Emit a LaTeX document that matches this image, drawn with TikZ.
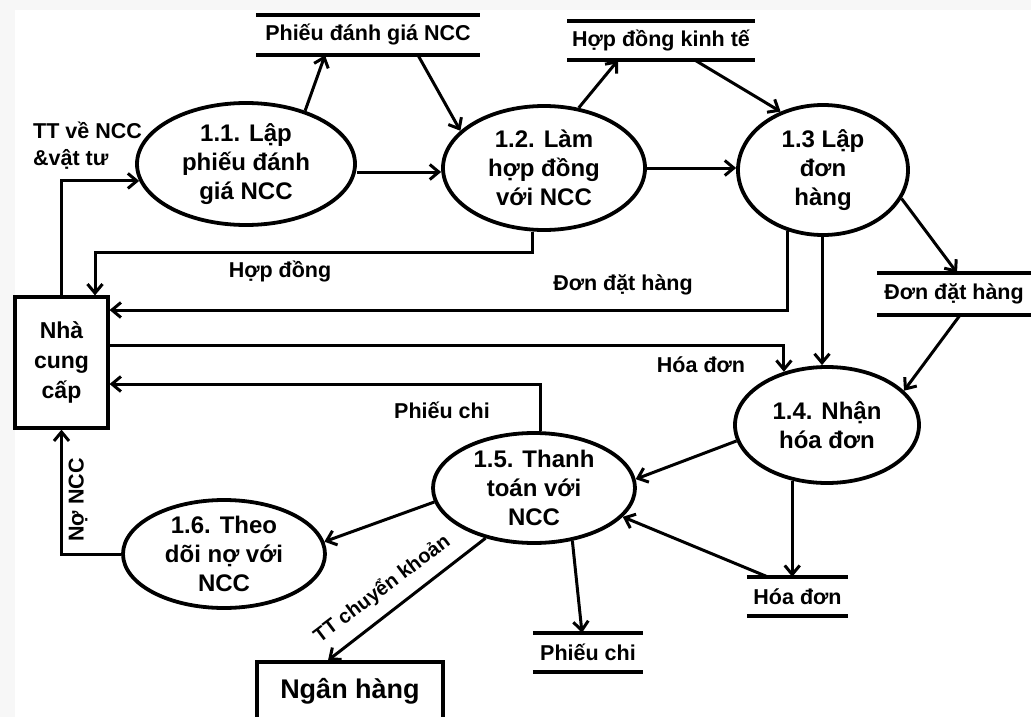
\documentclass[tikz,border=0pt]{standalone}
\usepackage{fontspec}
\setmainfont{Liberation Sans}
\usetikzlibrary{shapes.geometric,arrows.meta}
\begin{document}
\begin{tikzpicture}[x=1pt,y=-1pt,
  proc/.style={ellipse, draw, line width=3.8pt, inner sep=0pt, align=center,
    font=\fontsize{24}{29}\selectfont\bfseries},
  ent/.style={rectangle, draw, line width=3.2pt, inner sep=0pt, align=center},
  store/.style={inner sep=0pt, font=\fontsize{21.5}{24}\selectfont\bfseries},
  storeline/.style={line width=3.8pt},
  flow/.style={line width=3pt, -{Straight Barb[length=9pt,width=15pt]}},
  lbl/.style={font=\fontsize{21.5}{27}\selectfont\bfseries, inner sep=0pt}]
\useasboundingbox (0,0) rectangle (1031,717);
\fill[gray!6] (0,0) rectangle (1031,10);
\fill[gray!6] (0,0) rectangle (15,717);

% processes
\node[proc, minimum width=218pt, minimum height=122pt] (p11) at (246,164) {1.1. Lập\\phiếu đánh\\giá NCC};
\node[proc, minimum width=202pt, minimum height=124pt] (p12) at (544,168) {1.2. Làm\\hợp đồng\\với NCC};
\node[proc, minimum width=170pt, minimum height=130pt] (p13) at (823,170) {1.3 Lập\\đơn\\hàng};
\node[proc, minimum width=184pt, minimum height=116pt] (p14) at (827,425) {1.4. Nhận\\hóa đơn};
\node[proc, minimum width=202pt, minimum height=110pt, inner ysep=-3pt] (p15) at (534,488) {1.5. Thanh\\toán với\\NCC};
\node[proc, minimum width=202pt, minimum height=108pt, inner ysep=-3pt] (p16) at (224,554) {1.6. Theo\\dõi nợ với\\NCC};

% external entities
\node[ent, minimum width=93pt, minimum height=131pt, font=\fontsize{23}{30}\selectfont\bfseries] (ncc) at (61.5,362.5) {Nhà\\cung\\cấp};
\node[ent, minimum width=186pt, minimum height=58pt, font=\fontsize{27}{30}\selectfont\bfseries] (bank) at (350,691) {Ngân hàng};

% data stores
\node[store, minimum width=224pt, minimum height=40pt] (s1) at (368,35) {Phiếu đánh giá NCC};
\node[store, minimum width=187pt, minimum height=39pt] (s2) at (661,40.5) {Hợp đồng kinh tế};
\node[store, minimum width=154pt, minimum height=42pt] (s3) at (954,294) {Đơn đặt hàng};
\node[store, minimum width=101pt, minimum height=39pt] (s4) at (797.5,596.5) {Hóa đơn};
\node[store, minimum width=110pt, minimum height=39pt] (s5) at (588,652.5) {Phiếu chi};
\foreach \s in {s1,s2,s3,s4,s5} {
  \draw[storeline] (\s.north west) -- (\s.north east) (\s.south west) -- (\s.south east);
}

% flows
\draw[flow] (ncc.north) |- (p11.189.8);
\draw[flow] (p11.42.5) -- ([xshift=-43pt]s1.south);
\draw[flow] ([xshift=50pt]s1.south) -- (p12.156.4);
\draw[flow] (p11.east |- 0,172) -- (p12.west |- 0,172);
\draw[flow] (p12.60.9) -- ([xshift=-43pt]s2.south);
\draw[flow] ([xshift=34pt]s2.south) -- (p13.126.9);
\draw[flow] (p12.east) -- (p12.east -| p13.west);
\draw[flow] (p12.south -| 532,0) |- (95,252) -- (ncc.north -| 95,0);
\draw[flow] (p13.-120.7) |- (ncc.east |- 0,310);
\draw[flow] (p13.south -| 822,0) -- (p14.north -| 822,0);
\draw[flow] (p13.-20) -- ([xshift=3pt]s3.north);
\draw[flow] ([xshift=6pt]s3.south) -- (p14.24.3);
\draw[flow] (ncc.east |- 0,345) -| (p14.129.1);
\draw[flow] (p15.north -| 540,0) |- (ncc.east |- 0,384);
\draw[flow] (p14.190.7) -- (p15.5.8);
\draw[flow] (p14.-122.2) -- (p14.-122.2 |- s4.north);
\draw[flow] ([xshift=-30pt]s4.north) -- (p15.-18.6);
\draw[flow] (p15.-54.8) -- ([xshift=-6pt]s5.north);
\draw[flow] (p15.188) -- (p16.7);
\draw[flow] (p16.west) -| (ncc.south);
\draw[flow] (p15.226.8) -- ([xshift=-22pt]bank.north);

% flow labels
\node[lbl, anchor=west, align=left] (l1) at (33,146) {TT về NCC\\\&vật tư};
\node[lbl] (l2) at (280,272) {Hợp đồng};
\node[lbl] (l3) at (623,285) {Đơn đặt hàng};
\node[lbl] (l4) at (701,365) {Hóa đơn};
\node[lbl] (l5) at (442,410) {Phiếu chi};
\node[lbl, rotate=90] (l6) at (78,500) {Nợ NCC};
\node[lbl, rotate=37, font=\fontsize{20}{24}\selectfont\bfseries] (l7) at (382,589) {TT chuyển khoản};
\end{tikzpicture}
\end{document}
